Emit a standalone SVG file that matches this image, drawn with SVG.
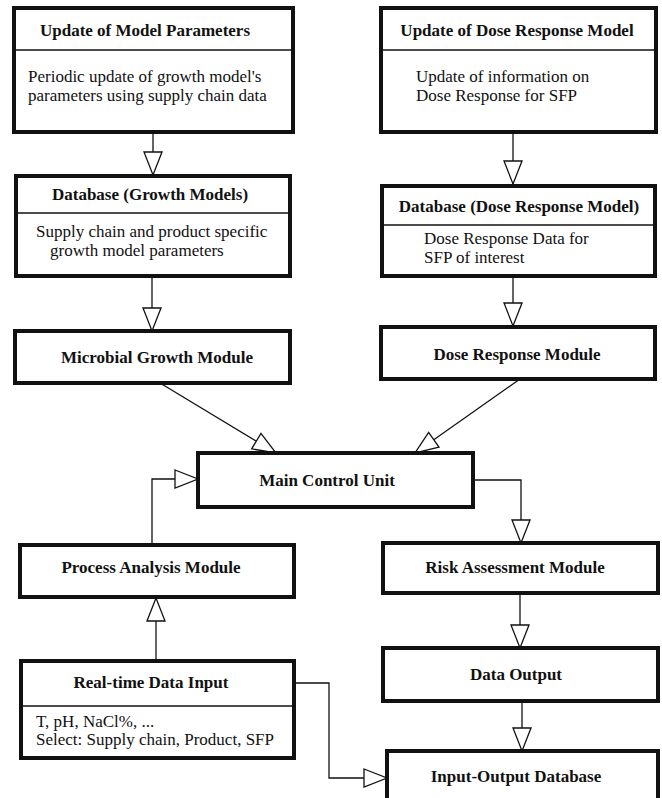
<svg xmlns="http://www.w3.org/2000/svg" width="662" height="798" viewBox="0 0 662 798">
<style>
.box{fill:#fff;stroke:#111;stroke-width:4}
.div{stroke:#111;stroke-width:1.3}
.t{font-family:"Liberation Serif","Times New Roman",serif;font-size:17px;font-weight:bold;fill:#111;text-anchor:middle}
.b{font-family:"Liberation Serif","Times New Roman",serif;font-size:17px;fill:#111}
.c{fill:none;stroke:#111;stroke-width:1.3;marker-end:url(#ah)}
</style>
<defs>
<marker id="ah" markerUnits="userSpaceOnUse" markerWidth="26" markerHeight="22" refX="23" refY="10" orient="auto" overflow="visible">
<path d="M0,1 L23,10 L0,19 Z" fill="#fff" stroke="#111" stroke-width="1.3"/>
</marker>
</defs>
<rect width="662" height="798" fill="#fff"/>
<g id="connectors">
<path class="c" d="M153,132 V175"/>
<path class="c" d="M513,132 V184"/>
<path class="c" d="M152,276 V331"/>
<path class="c" d="M513,276 V326"/>
<path class="c" d="M160,383 L276,453"/>
<path class="c" d="M520,379 L415,453"/>
<path class="c" d="M152,545 V479 H198"/>
<path class="c" d="M473,480 H521 V543"/>
<path class="c" d="M156,661 V598"/>
<path class="c" d="M520,593 V648"/>
<path class="c" d="M522,701 V751"/>
<path class="c" d="M294,683 H329 V778 H387"/>
</g>
<g id="update-model-parameters">
<rect class="box" x="14" y="8" width="279" height="124"/>
<line class="div" x1="14" y1="50" x2="293" y2="50"/>
<text class="t" x="145" y="36">Update of Model Parameters</text>
<text class="b" x="28" y="82">Periodic update of growth model's</text>
<text class="b" x="28" y="101">parameters using supply chain data</text>
</g>
<g id="update-dose-response">
<rect class="box" x="381" y="8" width="275" height="124"/>
<line class="div" x1="381" y1="50" x2="656" y2="50"/>
<text class="t" x="517" y="36">Update of Dose Response Model</text>
<text class="b" x="416" y="82">Update of information on</text>
<text class="b" x="416" y="101">Dose Response for SFP</text>
</g>
<g id="db-growth">
<rect class="box" x="16" y="176" width="274" height="100"/>
<line class="div" x1="16" y1="213" x2="290" y2="213"/>
<text class="t" x="150" y="200">Database (Growth Models)</text>
<text class="b" x="36" y="237">Supply chain and product specific</text>
<text class="b" x="50" y="256">growth model parameters</text>
</g>
<g id="microbial-growth">
<rect class="box" x="15" y="331" width="275" height="52"/>
<text class="t" x="157" y="363">Microbial Growth Module</text>
</g>
<g id="db-dose">
<rect class="box" x="382" y="186" width="273" height="90"/>
<line class="div" x1="382" y1="225" x2="655" y2="225"/>
<text class="t" x="519" y="212">Database (Dose Response Model)</text>
<text class="b" x="424" y="244">Dose Response Data for</text>
<text class="b" x="424" y="263">SFP of interest</text>
</g>
<g id="dose-response">
<rect class="box" x="381" y="327" width="274" height="52"/>
<text class="t" x="517" y="360">Dose Response Module</text>
</g>
<g id="main-control">
<rect class="box" x="198" y="453" width="275" height="54"/>
<text class="t" x="327" y="486">Main Control Unit</text>
</g>
<g id="process-analysis">
<rect class="box" x="20" y="545" width="274" height="52"/>
<text class="t" x="151" y="573">Process Analysis Module</text>
</g>
<g id="realtime-input">
<rect class="box" x="21" y="661" width="273" height="97"/>
<line class="div" x1="21" y1="706" x2="294" y2="706"/>
<text class="t" x="151" y="688">Real-time Data Input</text>
<text class="b" x="36" y="727">T, pH, NaCl%, ...</text>
<text class="b" x="36" y="745">Select: Supply chain, Product, SFP</text>
</g>
<g id="risk-assessment">
<rect class="box" x="383" y="543" width="275" height="50"/>
<text class="t" x="515" y="573">Risk Assessment Module</text>
</g>
<g id="data-output">
<rect class="box" x="383" y="648" width="275" height="53"/>
<text class="t" x="516" y="680">Data Output</text>
</g>
<g id="io-database">
<rect class="box" x="387" y="751" width="271" height="60"/>
<text class="t" x="516" y="782">Input-Output Database</text>
</g>
</svg>
